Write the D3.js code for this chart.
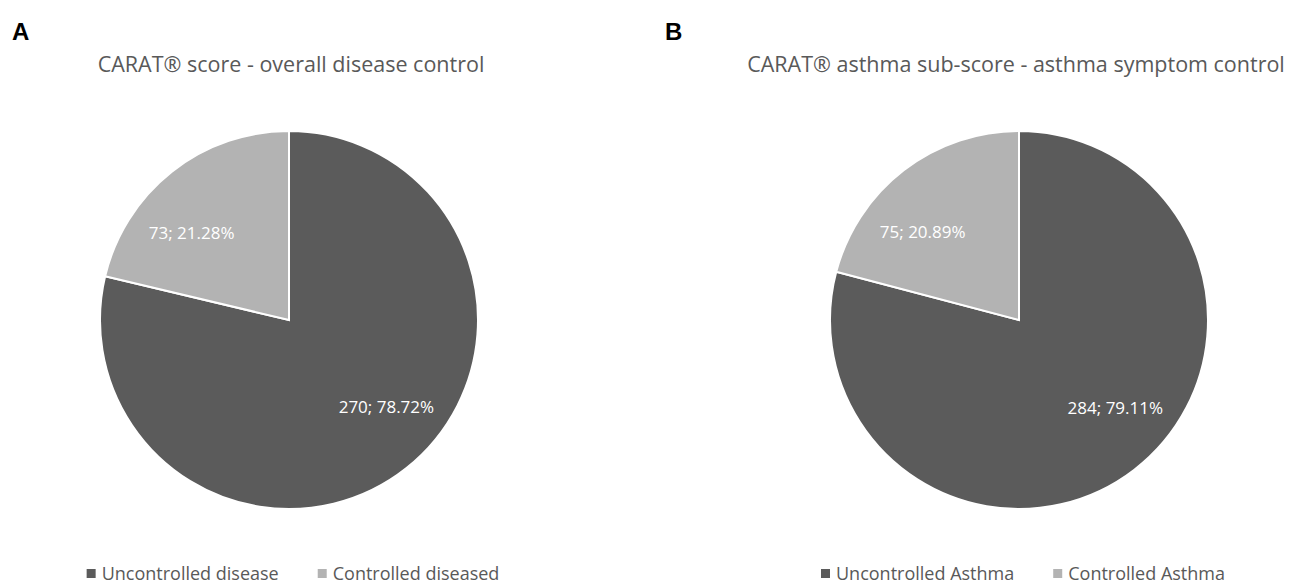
<!DOCTYPE html>
<html>
<head>
<meta charset="utf-8">
<script src="https://cdn.jsdelivr.net/npm/d3@7"></script>
<style>
  body { margin: 0; background: #fff; }
  text { font-family: "Open Sans", "Noto Sans", sans-serif; }
</style>
</head>
<body>
<div id="chart"></div>
<script>
const panelLetters = ['A', 'B'];
const titles = [
  'CARAT\u00AE score - overall disease control',
  'CARAT\u00AE asthma sub-score - asthma symptom control'
];
const categoriesA = ['Uncontrolled disease', 'Controlled diseased'];
const categoriesB = ['Uncontrolled Asthma', 'Controlled Asthma'];
const countsA = [270, 73];
const countsB = [284, 75];
const percentsA = ['78.72%', '21.28%'];
const percentsB = ['79.11%', '20.89%'];
const colors = ['#5b5b5b', '#b3b3b3'];

const width = 1294;
const height = 584;

const svg = d3.select('#chart')
  .append('svg')
  .attr('width', width)
  .attr('height', height);

const panels = [
  { cx: 289, titleDx: 2, letterX: 12, cats: categoriesA, counts: countsA, pcts: percentsA },
  { cx: 1019, titleDx: -3, letterX: 665, cats: categoriesB, counts: countsB, pcts: percentsB },
];

const radius = 189;
const cy = 320;
// excel nudges the labels a bit counter-clockwise of the slice middle
const labelShift = -10 * Math.PI / 180;

const pie = d3.pie().sort(null).value((d) => d.count);
const arc = d3.arc().innerRadius(0).outerRadius(radius);
const labelArc = d3.arc().innerRadius(radius * 0.69).outerRadius(radius * 0.69);

panels.forEach((p, i) => {
  const g = svg.append('g').attr('class', 'panel');

  g.append('text')
    .attr('x', p.letterX)
    .attr('y', 40)
    .style('font-family', 'Liberation Sans, Arial, sans-serif')
    .style('font-weight', 'bold')
    .style('font-size', '24px')
    .attr('fill', '#000')
    .text(panelLetters[i]);

  g.append('text')
    .attr('x', p.cx + p.titleDx)
    .attr('y', 72)
    .attr('text-anchor', 'middle')
    .style('font-size', '21.5px')
    .attr('fill', '#595959')
    .text(titles[i]);

  const data = p.cats.map((c, j) => ({ cat: c, count: p.counts[j], pct: p.pcts[j] }));
  const slices = pie(data);

  const pg = g.append('g').attr('transform', `translate(${p.cx},${cy})`);

  pg.selectAll('path')
    .data(slices)
    .join('path')
      .attr('d', arc)
      .attr('fill', (d, j) => colors[j])
      .attr('stroke', '#fff')
      .attr('stroke-width', 2);

  pg.selectAll('text.label')
    .data(slices)
    .join('text')
      .attr('class', 'label')
      .attr('transform', (d) => {
        const c = labelArc.centroid({
          startAngle: d.startAngle + labelShift,
          endAngle: d.endAngle + labelShift,
        });
        return `translate(${c})`;
      })
      .attr('text-anchor', 'middle')
      .attr('dy', '0.35em')
      .style('font-size', '17px')
      .attr('fill', '#fff')
      .text((d) => `${d.data.count}; ${d.data.pct}`);

  // legend, centred under the pie
  const lg = g.append('g');
  let offset = 0;
  data.forEach((d, j) => {
    const item = lg.append('g').attr('transform', `translate(${offset},0)`);
    item.append('rect')
      .attr('x', 0)
      .attr('y', -11)
      .attr('width', 9)
      .attr('height', 9)
      .attr('fill', colors[j]);
    const t = item.append('text')
      .attr('x', 15)
      .attr('y', 0)
      .style('font-size', '18px')
      .attr('fill', '#595959')
      .text(d.cat);
    offset += 15 + t.node().getComputedTextLength() + 39;
  });
  const legendW = offset - 39;
  lg.attr('transform', `translate(${p.cx + 4 - legendW / 2},580)`);
});
</script>
</body>
</html>
